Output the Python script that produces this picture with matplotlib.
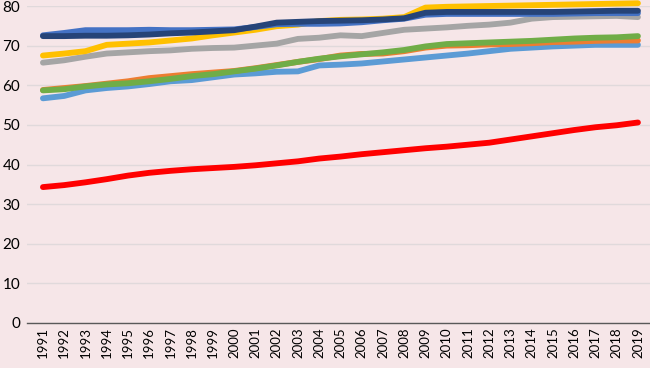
import matplotlib
matplotlib.use("Agg")
import matplotlib.pyplot as plt

years = list(range(1991, 2020))

navy = [72.4, 72.4, 72.5, 72.5, 72.6, 72.8, 73.1, 73.3, 73.6, 73.9, 74.8, 75.8, 76.0, 76.2, 76.3, 76.4, 76.6, 76.9, 78.3, 78.5, 78.5, 78.5, 78.5, 78.5, 78.5, 78.6, 78.7, 78.8, 78.8]
blue = [72.6, 73.2, 73.9, 73.9, 73.9, 74.0, 73.9, 73.9, 74.0, 74.1, 74.7, 75.4, 75.5, 75.5, 75.6, 75.9, 76.4, 76.8, 77.8, 78.0, 78.0, 78.0, 78.0, 78.0, 78.0, 78.1, 78.2, 78.2, 78.2]
yellow = [67.5, 68.0, 68.6, 70.2, 70.5, 70.8, 71.3, 71.8, 72.6, 73.3, 74.0, 74.9, 75.3, 76.2, 76.5, 76.6, 76.8, 77.2, 79.6, 79.8, 79.9, 80.0, 80.1, 80.2, 80.3, 80.4, 80.5, 80.6, 80.7]
gray = [65.7, 66.3, 67.2, 68.0, 68.3, 68.6, 68.8, 69.2, 69.4, 69.5, 70.0, 70.5, 71.7, 72.0, 72.6, 72.4, 73.2, 74.0, 74.3, 74.6, 75.0, 75.3, 75.8, 76.8, 77.2, 77.3, 77.4, 77.5, 77.2]
orange = [58.8, 59.3, 59.8, 60.4, 61.0, 61.8, 62.3, 62.8, 63.2, 63.6, 64.3, 65.1, 65.9, 66.6, 67.5, 67.9, 68.0, 68.6, 69.5, 70.0, 70.1, 70.3, 70.4, 70.6, 70.9, 71.0, 71.2, 71.3, 71.3]
green = [58.7, 59.0, 59.7, 60.2, 60.5, 61.0, 61.6, 62.3, 62.8, 63.5, 64.2, 65.0, 65.9, 66.7, 67.3, 67.8, 68.3, 68.9, 69.8, 70.4, 70.6, 70.8, 71.0, 71.2, 71.5, 71.8, 72.0, 72.1, 72.4]
lightblue = [56.7, 57.3, 58.7, 59.3, 59.7, 60.3, 61.0, 61.3, 62.0, 62.7, 63.0, 63.4, 63.5, 65.0, 65.2, 65.5, 66.0, 66.5, 67.0, 67.5, 68.0, 68.6, 69.2, 69.5, 69.8, 70.0, 70.2, 70.2, 70.2]
red = [34.3, 34.8, 35.5, 36.3, 37.2, 37.9, 38.4, 38.8, 39.1, 39.4, 39.8, 40.3, 40.8, 41.5, 42.0, 42.6, 43.1, 43.6, 44.1, 44.5, 45.0, 45.5, 46.3, 47.1, 47.9, 48.7, 49.4, 49.9, 50.6]

yticks = [0, 10, 20, 30, 40, 50, 60, 70, 80]

bg = "#F6E6E8"
fig = plt.figure(figsize=(6.5, 3.68), dpi=100, facecolor=bg)
ax = fig.add_axes([27/650, 1 - 323/368, 1 - 27/650, (323 - 6)/368], facecolor=bg)

lw = 4.2
series = [
    (lightblue, "#5B9BD5"),
    (orange, "#ED7D31"),
    (green, "#70AD47"),
    (gray, "#A5A5A5"),
    (yellow, "#FFC000"),
    (blue, "#4472C4"),
    (navy, "#264478"),
    (red, "#FF0000"),
]
for vals, c in series:
    ax.plot(years, vals, color=c, lw=lw, solid_capstyle="round",
            solid_joinstyle="round", clip_on=False)

ax.set_ylim(0, 80)
ax.set_xlim(1990.25, 1990.25 + (650 - 27) / 21.25)
ax.set_yticks(yticks)
ax.set_xticks(years)
ax.set_xticklabels([str(y) for y in years], rotation=90, fontsize=9.5, family=["Lato", "DejaVu Sans"])
ax.set_yticklabels([str(v) for v in yticks], fontsize=11, family=["Lato", "DejaVu Sans"])
ax.tick_params(axis="both", length=0, pad=3)
ax.tick_params(axis="y", pad=5)
ax.grid(axis="y", color="#E0D9DB", lw=1)
ax.set_axisbelow(True)
for s in ["top", "right", "left"]:
    ax.spines[s].set_visible(False)
ax.spines["bottom"].set_color("#595959")
ax.spines["bottom"].set_linewidth(1)

fig.savefig("out.png", dpi=100, facecolor=bg)
